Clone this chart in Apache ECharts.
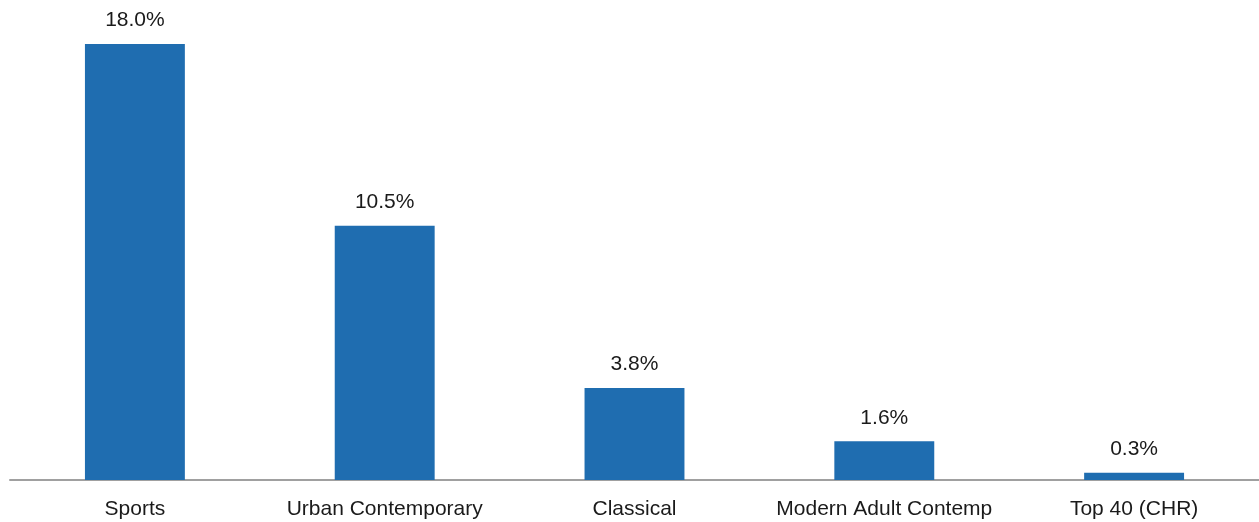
<!DOCTYPE html>
<html>
<head>
<meta charset="utf-8">
<script src="https://cdn.jsdelivr.net/npm/echarts@6/dist/echarts.min.js"></script>
<style>
  html, body { margin: 0; padding: 0; background: #ffffff; }
  #chart { width: 1259px; height: 522px; }
</style>
</head>
<body>
<div id="chart"></div>
<script>
// Format categories and their share values (percent)
const categories = ['Sports', 'Urban Contemporary', 'Classical', 'Modern Adult Contemp', 'Top 40 (CHR)'];
const shareValues = [18.0, 10.5, 3.8, 1.6, 0.3];

const chart = echarts.init(document.getElementById('chart'), null, { renderer: 'canvas' });

chart.setOption({
  animation: false,
  backgroundColor: '#ffffff',
  grid: { left: 10, right: -1, top: 44, bottom: 42, containLabel: false },
  xAxis: {
    type: 'category',
    data: categories,
    axisLine: { show: true, lineStyle: { color: '#a0a0a0', width: 2 } },
    axisTick: { show: false },
    axisLabel: {
      interval: 0,
      hideOverlap: false,
      color: '#1a1a1a',
      fontFamily: 'Liberation Sans, Arial, sans-serif',
      fontSize: 21,
      margin: 19
    }
  },
  yAxis: {
    type: 'value',
    min: 0,
    max: 18,
    show: false,
    splitLine: { show: false }
  },
  series: [{
    type: 'bar',
    data: shareValues,
    barWidth: '40%',
    itemStyle: { color: '#1f6db0' },
    label: {
      show: true,
      position: 'top',
      distance: 13,
      color: '#1a1a1a',
      fontFamily: 'Liberation Sans, Arial, sans-serif',
      fontSize: 21,
      formatter: p => p.value.toFixed(1) + '%'
    }
  }]
});
</script>
</body>
</html>
